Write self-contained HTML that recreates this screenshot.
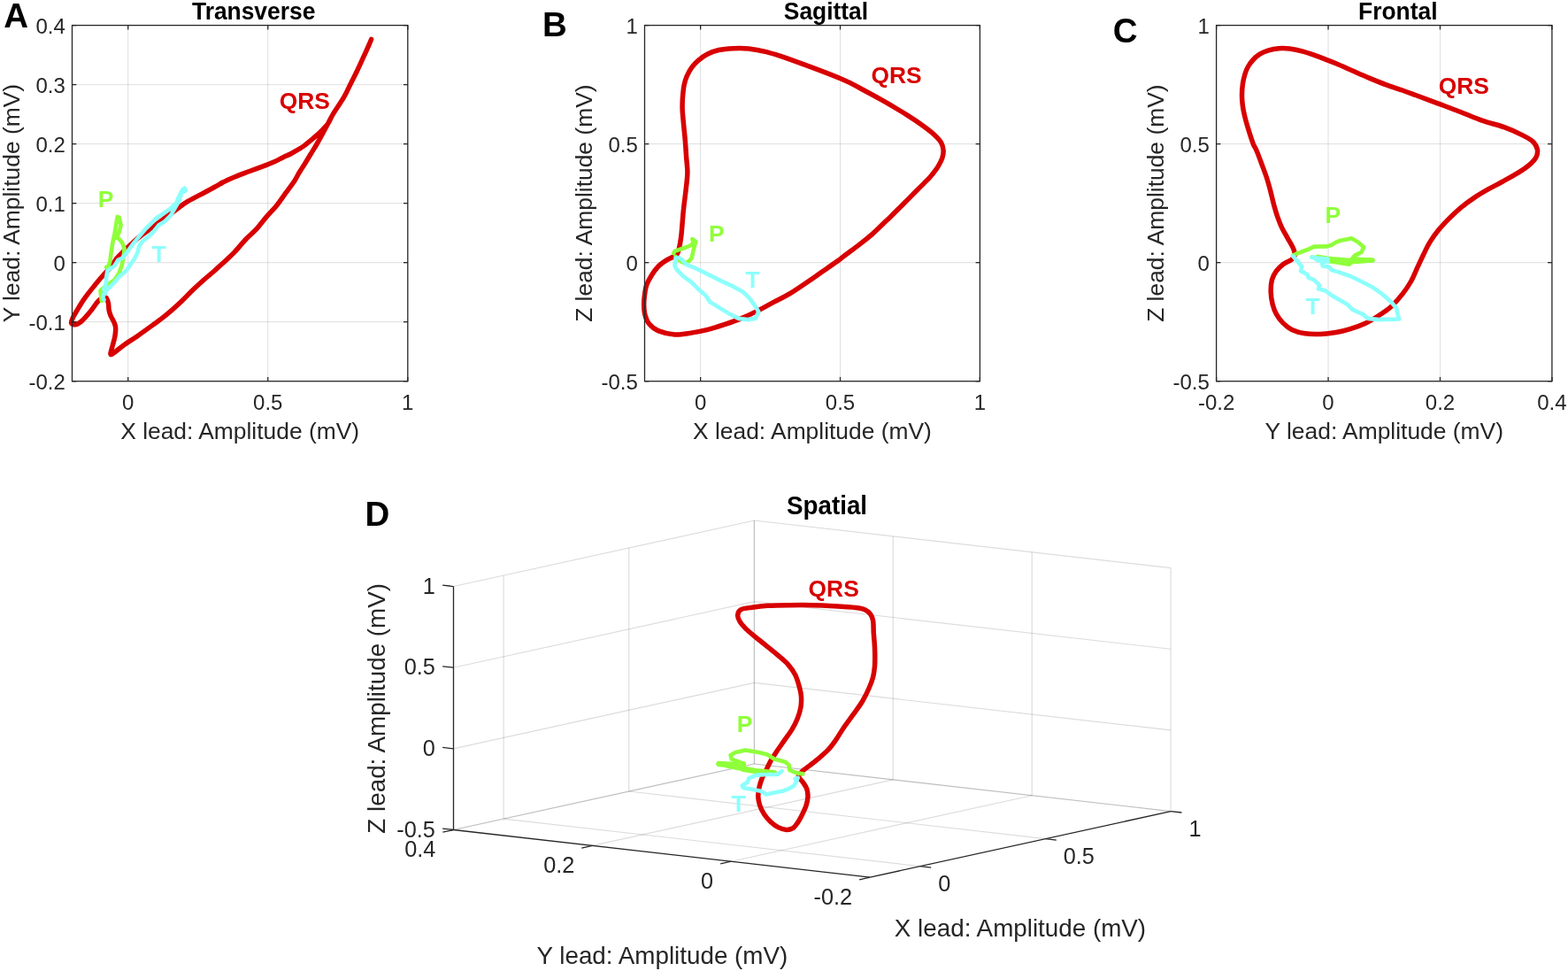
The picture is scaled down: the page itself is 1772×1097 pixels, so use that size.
<!DOCTYPE html>
<html><head><meta charset="utf-8"><style>
html,body{margin:0;padding:0;background:#fff;}
svg{display:block;font-family:'Liberation Sans', Arial, sans-serif;}
</style></head><body>
<svg width="1772" height="1097" viewBox="0 0 1772 1097">
<rect width="1772" height="1097" fill="#fff"/>
<line x1="144.72" y1="28.6" x2="144.72" y2="430.7" stroke="#262626" stroke-width="1" stroke-opacity="0.15"/>
<line x1="302.76" y1="28.6" x2="302.76" y2="430.7" stroke="#262626" stroke-width="1" stroke-opacity="0.15"/>
<line x1="81.5" y1="363.68" x2="460.8" y2="363.68" stroke="#262626" stroke-width="1" stroke-opacity="0.15"/>
<line x1="81.5" y1="296.67" x2="460.8" y2="296.67" stroke="#262626" stroke-width="1" stroke-opacity="0.15"/>
<line x1="81.5" y1="229.65" x2="460.8" y2="229.65" stroke="#262626" stroke-width="1" stroke-opacity="0.15"/>
<line x1="81.5" y1="162.63" x2="460.8" y2="162.63" stroke="#262626" stroke-width="1" stroke-opacity="0.15"/>
<line x1="81.5" y1="95.62" x2="460.8" y2="95.62" stroke="#262626" stroke-width="1" stroke-opacity="0.15"/>
<line x1="791.65" y1="28.6" x2="791.65" y2="430.7" stroke="#262626" stroke-width="1" stroke-opacity="0.15"/>
<line x1="949.53" y1="28.6" x2="949.53" y2="430.7" stroke="#262626" stroke-width="1" stroke-opacity="0.15"/>
<line x1="728.5" y1="296.67" x2="1107.4" y2="296.67" stroke="#262626" stroke-width="1" stroke-opacity="0.15"/>
<line x1="728.5" y1="162.63" x2="1107.4" y2="162.63" stroke="#262626" stroke-width="1" stroke-opacity="0.15"/>
<line x1="1501.03" y1="28.6" x2="1501.03" y2="430.7" stroke="#262626" stroke-width="1" stroke-opacity="0.15"/>
<line x1="1627.47" y1="28.6" x2="1627.47" y2="430.7" stroke="#262626" stroke-width="1" stroke-opacity="0.15"/>
<line x1="1374.6" y1="296.67" x2="1753.9" y2="296.67" stroke="#262626" stroke-width="1" stroke-opacity="0.15"/>
<line x1="1374.6" y1="162.63" x2="1753.9" y2="162.63" stroke="#262626" stroke-width="1" stroke-opacity="0.15"/>
<path d="M118,336 C118.33,336.03 119.27,335.13 120,336.2 C120.73,337.27 121.88,340.12 122.4,342.4 C122.92,344.68 122.68,347.6 123.1,349.9 C123.52,352.2 123.97,353.9 124.9,356.2 C125.83,358.5 127.75,361.42 128.7,363.7 C129.65,365.98 130.4,367.2 130.6,369.9 C130.8,372.6 130.43,376.57 129.9,379.9 C129.37,383.23 128.23,386.57 127.4,389.9 C126.57,393.23 124.68,398.45 124.9,399.9 C125.12,401.35 126.2,400.27 128.7,398.6 C131.2,396.93 135.53,393.02 139.9,389.9 C144.27,386.78 149.48,383.65 154.9,379.9 C160.32,376.15 166.98,371.35 172.4,367.4 C177.82,363.45 182.13,360.52 187.4,356.2 C192.67,351.88 198.9,346.28 204,341.5 C209.1,336.72 213.67,331.67 218,327.5 C222.33,323.33 226.18,319.88 230,316.5 C233.82,313.12 237.25,310.4 240.9,307.2 C244.55,304 247.88,301.03 251.9,297.3 C255.92,293.57 260.63,289.35 265,284.8 C269.37,280.25 273.94,274.36 278.1,270 C282.26,265.64 286.11,262.82 289.96,258.64 C293.8,254.46 297.45,249.27 301.19,244.9 C304.94,240.53 308.89,236.79 312.43,232.42 C315.97,228.05 319.09,223.26 322.42,218.68 C325.75,214.11 329.79,208.9 332.41,204.95 C335.02,201 336.08,198.32 338.1,195 C340.12,191.68 342.27,188.58 344.5,185 C346.73,181.42 349.17,177.33 351.5,173.5 C353.83,169.67 356.27,165.83 358.5,162 C360.73,158.17 362.88,154.22 364.9,150.5 C366.92,146.78 368.68,143.32 370.6,139.7 C372.52,136.08 373.4,133.77 376.4,128.8 C379.4,123.83 385.32,115.55 388.6,109.9 C391.88,104.25 393.6,99.88 396.1,94.9 C398.6,89.92 401.1,85.2 403.6,80 C406.1,74.8 408.82,68.7 411.1,63.7 C413.38,58.7 415.88,53.22 417.3,50 C418.72,46.78 419.6,44.4 419.6,44.4 C419.6,44.4 418.72,46.78 417.3,50 C415.88,53.22 413.38,58.7 411.1,63.7 C408.82,68.7 406.1,74.8 403.6,80 C401.1,85.2 398.6,89.92 396.1,94.9 C393.6,99.88 391.88,104.25 388.6,109.9 C385.32,115.55 379.4,123.83 376.4,128.8 C373.4,133.77 372.52,136.82 370.6,139.7 C368.68,142.58 366.92,143.98 364.9,146.1 C362.88,148.22 360.85,150.28 358.5,152.4 C356.15,154.52 353.25,156.77 350.8,158.8 C348.35,160.83 346.13,162.9 343.8,164.6 C341.47,166.3 339.25,167.52 336.8,169 C334.35,170.48 331.97,172 329.1,173.5 C326.23,175 322.78,176.45 319.6,178 C316.42,179.55 313.28,181.33 310,182.8 C306.72,184.27 304.74,185.03 299.94,186.84 C295.15,188.66 287.04,191.53 281.21,193.71 C275.39,195.9 270.19,197.77 264.98,199.96 C259.78,202.14 252.53,205.57 250,206.82 C247.47,208.07 252.96,205.69 249.8,207.46 C246.65,209.23 237.32,214.12 231.07,217.45 C224.83,220.78 217.55,224.31 212.35,227.44 C207.14,230.56 204.44,232.85 199.86,236.18 C195.28,239.51 189.87,243.67 184.88,247.41 C179.88,251.16 174.89,254.9 169.89,258.65 C164.9,262.4 160.94,264.66 154.91,269.89 C148.88,275.11 137.87,285.81 133.7,290 C129.53,294.19 131.37,293.02 129.9,295 C128.43,296.98 126.77,299.62 124.9,301.9 C123.03,304.18 120.57,306.63 118.7,308.7 C116.83,310.77 115.57,312.12 113.7,314.3 C111.83,316.48 109.78,318.98 107.5,321.8 C105.22,324.62 102.3,328.18 100,331.2 C97.7,334.22 95.78,336.78 93.7,339.9 C91.62,343.02 89.37,346.77 87.5,349.9 C85.63,353.03 83.65,356.2 82.5,358.7 C81.35,361.2 80.18,363.55 80.6,364.9 C81.02,366.25 83.23,367 85,366.8 C86.77,366.6 89.12,365.27 91.2,363.7 C93.28,362.13 95.42,359.7 97.5,357.4 C99.58,355.1 101.62,352.6 103.7,349.9 C105.78,347.2 108.12,343.38 110,341.2 C111.88,339.02 113.67,337.67 115,336.8 C116.33,335.93 117.5,336.13 118,336" fill="none" stroke="#D80000" stroke-width="5.5" stroke-linejoin="round" stroke-linecap="round"/>
<polyline points="114.82,340.08 113.5,328.19 121.43,321.58 129.36,316.29 134.65,308.37 137.95,299.11 139.93,287.22 140.59,280.61 137.95,274.01 134.65,270.04 132,268.72 134.65,262.11 136.63,254.18 134.65,245.59 132.66,244.93 131.34,252.86 129.62,263.43 127.38,274.01 125.66,284.58 124.34,295.15 122.75,300.44 120.11,301.76" fill="none" stroke="#8FFF3A" stroke-width="4.6" stroke-linejoin="round" stroke-linecap="round"/>
<polyline points="118.79,332.15 117.47,326.87 120.11,318.94 120.11,313.65 121.43,305.72 125.4,303.08 129.36,300.44 133.32,293.83 138.61,291.19 143.9,284.58 150.5,275.33 157.11,267.4 163.72,259.47 170.33,252.86 176.93,246.25 184.86,240.97 192.79,235.68 199.4,229.07 202.04,222.47 206.01,214.54 208.65,212.55 209.97,215.2 204.69,218.5 202.7,226.43 198.08,234.36 192.79,243.61 186.19,250.22 179.58,254.18 174.29,260.79 167.68,267.4 161.08,272.68 157.11,277.97 155.79,284.58 151.83,292.51 147.86,297.79 143.9,304.4 139.93,308.37 134.65,312.33 130.68,317.62 126.72,321.58 122.75,325.55 118.79,329.51 116.14,334.8 117.47,338.76" fill="none" stroke="#8CFFFC" stroke-width="4.6" stroke-linejoin="round" stroke-linecap="round"/>
<text x="344.25" y="123" font-size="26.4" font-weight="bold" text-anchor="middle" fill="#D80000">QRS</text>
<text x="119.58" y="234" font-size="26.4" font-weight="bold" text-anchor="middle" fill="#8FFF3A">P</text>
<text x="179.68" y="295.6" font-size="26.4" font-weight="bold" text-anchor="middle" fill="#8CFFFC">T</text>
<path d="M766.2,285 C766.52,283.75 767.47,280.83 768.1,277.5 C768.73,274.17 769.28,271.7 770,265 C770.72,258.3 771.5,246.08 772.4,237.3 C773.3,228.52 774.65,219.38 775.4,212.3 C776.15,205.22 776.87,200.68 776.9,194.8 C776.93,188.92 776.03,183.03 775.6,177 C775.17,170.97 774.82,164.78 774.3,158.6 C773.78,152.42 773.02,145.52 772.5,139.9 C771.98,134.28 771.42,129.07 771.2,124.9 C770.98,120.73 771.1,118.02 771.2,114.9 C771.3,111.78 771.48,109.32 771.8,106.2 C772.12,103.08 772.37,99.53 773.1,96.2 C773.83,92.87 774.75,89.53 776.2,86.2 C777.65,82.87 779.62,79.22 781.8,76.2 C783.98,73.18 786.38,70.6 789.3,68.1 C792.22,65.6 795.45,63.13 799.3,61.2 C803.15,59.27 807.52,57.58 812.4,56.5 C817.28,55.42 822.98,54.95 828.6,54.7 C834.22,54.45 839.85,54.33 846.1,55 C852.35,55.67 859.02,56.93 866.1,58.7 C873.18,60.47 874.63,60.6 888.6,65.6 C902.57,70.6 935.52,82.77 949.9,88.7 C964.28,94.63 966.57,96.83 974.9,101.2 C983.23,105.57 991.57,110.12 999.9,114.9 C1008.23,119.68 1017.62,125.32 1024.9,129.9 C1032.18,134.48 1038.4,138.65 1043.6,142.4 C1048.8,146.15 1052.77,149.28 1056.1,152.4 C1059.43,155.52 1061.93,158.18 1063.6,161.1 C1065.27,164.02 1065.9,166.98 1066.1,169.9 C1066.3,172.82 1065.85,175.48 1064.8,178.6 C1063.75,181.72 1061.67,185.53 1059.8,188.6 C1057.93,191.67 1055.38,194.73 1053.6,197 C1051.82,199.27 1051.68,199.52 1049.1,202.2 C1046.52,204.88 1041.75,209.45 1038.1,213.1 C1034.45,216.75 1030.83,220.45 1027.2,224.1 C1023.57,227.75 1019.95,231.37 1016.3,235 C1012.65,238.63 1010.42,240.97 1005.3,245.9 C1000.18,250.83 991.3,259.53 985.6,264.6 C979.9,269.67 975.95,272.53 971.1,276.3 C966.25,280.07 960.15,284.42 956.5,287.2 C952.85,289.98 952.85,290.33 949.2,293 C945.55,295.67 939.47,299.78 934.6,303.2 C929.73,306.62 926.83,308.83 920,313.5 C913.17,318.17 901.13,326.6 893.6,331.2 C886.07,335.8 881.05,337.78 874.8,341.1 C868.55,344.42 862.33,347.97 856.1,351.1 C849.87,354.23 843.65,357.3 837.4,359.9 C831.15,362.5 824.85,364.62 818.6,366.7 C812.35,368.78 806.13,370.83 799.9,372.4 C793.67,373.97 787.43,375.17 781.2,376.1 C774.97,377.03 768.75,378.42 762.5,378 C756.25,377.58 748.5,375.58 743.7,373.6 C738.9,371.62 736.15,369.02 733.7,366.1 C731.25,363.18 730,359.63 729,356.1 C728,352.57 727.82,348.43 727.7,344.9 C727.58,341.37 727.82,338.65 728.3,334.9 C728.78,331.15 729.28,326.35 730.6,322.4 C731.92,318.45 734.02,314.73 736.2,311.2 C738.38,307.67 740.78,304.12 743.7,301.2 C746.62,298.28 750.37,295.78 753.7,293.7 C757.03,291.62 761.62,290.15 763.7,288.7 C765.78,287.25 765.78,285.62 766.2,285" fill="none" stroke="#D80000" stroke-width="5.5" stroke-linejoin="round" stroke-linecap="round"/>
<polyline points="761.21,286.21 762.46,283.71 769.95,281.21 778.69,278.09 783.68,274.97 782.44,269.98 786.18,273.1 783.68,282.46 781.81,291.2 778.69,294.95 773.7,297.45 768.7,294.95 763.71,289.96" fill="none" stroke="#8FFF3A" stroke-width="4.6" stroke-linejoin="round" stroke-linecap="round"/>
<polyline points="763.71,291.2 762.46,299.94 764.96,304.94 772.45,312.43 781.19,318.67 788.68,326.16 797.42,333.66 802.41,341.15 812.4,347.39 824.89,354.88 834.88,359.88 844.87,361.12 853.61,359.88 857.35,352.38 853.61,346.14 847.36,337.4 839.87,329.91 828.63,323.67 814.9,317.42 799.92,309.93 787.43,303.69 774.94,298.7 771.2,293.7 767.45,291.2" fill="none" stroke="#8CFFFC" stroke-width="4.6" stroke-linejoin="round" stroke-linecap="round"/>
<text x="1013" y="93.7" font-size="26.4" font-weight="bold" text-anchor="middle" fill="#D80000">QRS</text>
<text x="809.9" y="272.5" font-size="26.4" font-weight="bold" text-anchor="middle" fill="#8FFF3A">P</text>
<text x="850.5" y="324.5" font-size="26.4" font-weight="bold" text-anchor="middle" fill="#8CFFFC">T</text>
<path d="M1463.7,287.5 C1463.28,286.23 1462.67,283.05 1461.2,279.9 C1459.73,276.75 1456.98,272.35 1454.9,268.6 C1452.82,264.85 1450.57,261.35 1448.7,257.4 C1446.83,253.45 1445.17,249.07 1443.7,244.9 C1442.23,240.73 1440.95,236.15 1439.9,232.4 C1438.85,228.65 1438.23,225.72 1437.4,222.4 C1436.57,219.08 1435.93,216.23 1434.9,212.5 C1433.87,208.77 1432.65,204.38 1431.2,200 C1429.75,195.62 1428.07,191.2 1426.2,186.2 C1424.33,181.2 1421.67,173.97 1420,170 C1418.33,166.03 1417.67,166.17 1416.2,162.4 C1414.73,158.63 1412.75,152.4 1411.2,147.4 C1409.65,142.4 1408.03,136.98 1406.9,132.4 C1405.77,127.82 1404.97,124.07 1404.4,119.9 C1403.83,115.73 1403.5,111.57 1403.5,107.4 C1403.5,103.23 1403.83,98.85 1404.4,94.9 C1404.97,90.95 1405.87,87.02 1406.9,83.7 C1407.93,80.38 1409.05,77.7 1410.6,75 C1412.15,72.3 1414.02,69.8 1416.2,67.5 C1418.38,65.2 1420.78,62.97 1423.7,61.2 C1426.62,59.43 1430.17,57.98 1433.7,56.9 C1437.23,55.82 1440.95,55.02 1444.9,54.7 C1448.85,54.38 1452.82,54.43 1457.4,55 C1461.98,55.57 1466.78,56.55 1472.4,58.1 C1478.02,59.65 1484.85,62.02 1491.1,64.3 C1497.35,66.58 1503.65,69.18 1509.9,71.8 C1516.15,74.42 1522.37,77.28 1528.6,80 C1534.83,82.72 1541.07,85.5 1547.3,88.1 C1553.53,90.7 1559.75,93.28 1566,95.6 C1572.25,97.92 1579.15,100.02 1584.8,102 C1590.45,103.98 1593.22,105.03 1599.9,107.5 C1606.58,109.97 1616.57,113.68 1624.9,116.8 C1633.23,119.92 1641.57,122.97 1649.9,126.2 C1658.23,129.43 1666.58,133.28 1674.9,136.2 C1683.22,139.12 1692.32,141 1699.8,143.7 C1707.28,146.4 1714.38,149.7 1719.8,152.4 C1725.22,155.1 1729.38,157.2 1732.3,159.9 C1735.22,162.6 1736.68,165.68 1737.3,168.6 C1737.92,171.52 1737.47,174.48 1736,177.4 C1734.53,180.32 1731.82,183.18 1728.5,186.1 C1725.18,189.02 1721.28,191.67 1716.1,194.9 C1710.92,198.13 1703.07,202.37 1697.4,205.5 C1691.73,208.63 1687.2,210.8 1682.1,213.7 C1677,216.6 1671.9,219.5 1666.8,222.9 C1661.7,226.3 1656.43,230.02 1651.5,234.1 C1646.57,238.18 1641.47,243.15 1637.2,247.4 C1632.93,251.65 1629.48,255.18 1625.9,259.6 C1622.32,264.02 1618.6,269.17 1615.7,273.9 C1612.8,278.63 1610.73,283.45 1608.5,288 C1606.27,292.55 1604.58,296.28 1602.3,301.2 C1600.02,306.12 1597.72,312.3 1594.8,317.5 C1591.88,322.7 1588.55,327.62 1584.8,332.4 C1581.05,337.18 1576.67,342.23 1572.3,346.2 C1567.93,350.17 1563.38,353.08 1558.6,356.2 C1553.82,359.32 1548.82,362.42 1543.6,364.9 C1538.38,367.38 1532.92,369.33 1527.3,371.1 C1521.68,372.87 1515.72,374.45 1509.9,375.5 C1504.08,376.55 1498.23,377.18 1492.4,377.4 C1486.57,377.62 1480.32,377.63 1474.9,376.8 C1469.48,375.97 1464.07,374.38 1459.9,372.4 C1455.73,370.42 1452.82,367.82 1449.9,364.9 C1446.98,361.98 1444.37,358.43 1442.4,354.9 C1440.43,351.37 1439.13,347.87 1438.1,343.7 C1437.07,339.53 1436.32,334.48 1436.2,329.9 C1436.08,325.32 1436.37,320.15 1437.4,316.2 C1438.43,312.25 1440.32,309.12 1442.4,306.2 C1444.48,303.28 1446.98,300.88 1449.9,298.7 C1452.82,296.52 1457.6,294.97 1459.9,293.1 C1462.2,291.23 1463.07,288.43 1463.7,287.5" fill="none" stroke="#D80000" stroke-width="5.5" stroke-linejoin="round" stroke-linecap="round"/>
<polyline points="1461.17,288.62 1464.92,286.74 1474.9,283 1479.9,281.12 1484.89,278.63 1499.88,278.38 1504.87,276.75 1509.87,273.63 1514.86,271.76 1527.35,269.26 1534.84,273.63 1541.08,279.25 1538.58,284.87 1531.09,288.62 1528.59,291.74 1537.33,292.99 1551.07,294.24 1537.33,295.48 1527.35,296.11 1524.85,298.61 1502.37,294.86 1489.89,291.74 1482.4,290.49" fill="none" stroke="#8FFF3A" stroke-width="4.6" stroke-linejoin="round" stroke-linecap="round"/>
<polyline points="1489.89,291.36 1502.37,293.61 1514.86,294.61 1525.47,295.48" fill="none" stroke="#8FFF3A" stroke-width="7.5" stroke-linejoin="round" stroke-linecap="round"/>
<polyline points="1525.47,294.24 1539.83,293.61 1551.07,293.99" fill="none" stroke="#8FFF3A" stroke-width="5.5" stroke-linejoin="round" stroke-linecap="round"/>
<polyline points="1461.17,289.36 1466.16,294.98 1471.16,301.23 1469.91,306.22 1477.4,309.97 1478.65,313.71 1484.89,316.21 1491.14,322.45 1489.89,326.2 1498.63,328.7 1504.87,333.69 1512.36,338.06 1522.35,343.68 1528.59,349.92 1539.83,354.92 1546.07,359.91 1558.56,361.16 1581.04,360.53 1579.79,356.16 1578.54,351.17 1578.54,348.67 1572.29,341.18 1562.31,332.44 1549.82,323.7 1539.83,318.71 1527.35,312.46 1514.86,308.09 1504.87,304.97 1502.37,301.85 1494.88,300.6 1493.63,295.61 1488.64,293.73 1484.89,291.24 1482.4,290.61 1489.89,291.49 1500.5,292.49 1500.5,295.61 1493.63,294.73" fill="none" stroke="#8CFFFC" stroke-width="4.6" stroke-linejoin="round" stroke-linecap="round"/>
<text x="1654.25" y="106.2" font-size="26.4" font-weight="bold" text-anchor="middle" fill="#D80000">QRS</text>
<text x="1506.25" y="252.3" font-size="26.4" font-weight="bold" text-anchor="middle" fill="#8FFF3A">P</text>
<text x="1483.65" y="354.9" font-size="26.4" font-weight="bold" text-anchor="middle" fill="#8CFFFC">T</text>
<line x1="144.72" y1="430.7" x2="144.72" y2="425.9" stroke="#262626" stroke-width="1.3"/>
<line x1="144.72" y1="28.6" x2="144.72" y2="33.4" stroke="#262626" stroke-width="1.3"/>
<line x1="302.76" y1="430.7" x2="302.76" y2="425.9" stroke="#262626" stroke-width="1.3"/>
<line x1="302.76" y1="28.6" x2="302.76" y2="33.4" stroke="#262626" stroke-width="1.3"/>
<line x1="460.8" y1="430.7" x2="460.8" y2="425.9" stroke="#262626" stroke-width="1.3"/>
<line x1="460.8" y1="28.6" x2="460.8" y2="33.4" stroke="#262626" stroke-width="1.3"/>
<line x1="81.5" y1="430.7" x2="86.3" y2="430.7" stroke="#262626" stroke-width="1.3"/>
<line x1="460.8" y1="430.7" x2="456" y2="430.7" stroke="#262626" stroke-width="1.3"/>
<line x1="81.5" y1="363.68" x2="86.3" y2="363.68" stroke="#262626" stroke-width="1.3"/>
<line x1="460.8" y1="363.68" x2="456" y2="363.68" stroke="#262626" stroke-width="1.3"/>
<line x1="81.5" y1="296.67" x2="86.3" y2="296.67" stroke="#262626" stroke-width="1.3"/>
<line x1="460.8" y1="296.67" x2="456" y2="296.67" stroke="#262626" stroke-width="1.3"/>
<line x1="81.5" y1="229.65" x2="86.3" y2="229.65" stroke="#262626" stroke-width="1.3"/>
<line x1="460.8" y1="229.65" x2="456" y2="229.65" stroke="#262626" stroke-width="1.3"/>
<line x1="81.5" y1="162.63" x2="86.3" y2="162.63" stroke="#262626" stroke-width="1.3"/>
<line x1="460.8" y1="162.63" x2="456" y2="162.63" stroke="#262626" stroke-width="1.3"/>
<line x1="81.5" y1="95.62" x2="86.3" y2="95.62" stroke="#262626" stroke-width="1.3"/>
<line x1="460.8" y1="95.62" x2="456" y2="95.62" stroke="#262626" stroke-width="1.3"/>
<line x1="81.5" y1="28.6" x2="86.3" y2="28.6" stroke="#262626" stroke-width="1.3"/>
<line x1="460.8" y1="28.6" x2="456" y2="28.6" stroke="#262626" stroke-width="1.3"/>
<rect x="81.5" y="28.6" width="379.3" height="402.1" fill="none" stroke="#262626" stroke-width="1.3"/>
<text x="144.72" y="462.8" font-size="24" text-anchor="middle" fill="#262626">0</text>
<text x="302.76" y="462.8" font-size="24" text-anchor="middle" fill="#262626">0.5</text>
<text x="460.8" y="462.8" font-size="24" text-anchor="middle" fill="#262626">1</text>
<text x="73.8" y="440.3" font-size="24" text-anchor="end" fill="#262626">-0.2</text>
<text x="73.8" y="373.28" font-size="24" text-anchor="end" fill="#262626">-0.1</text>
<text x="73.8" y="306.27" font-size="24" text-anchor="end" fill="#262626">0</text>
<text x="73.8" y="239.25" font-size="24" text-anchor="end" fill="#262626">0.1</text>
<text x="73.8" y="172.23" font-size="24" text-anchor="end" fill="#262626">0.2</text>
<text x="73.8" y="105.22" font-size="24" text-anchor="end" fill="#262626">0.3</text>
<text x="73.8" y="38.2" font-size="24" text-anchor="end" fill="#262626">0.4</text>
<text x="0" y="0" font-size="26.4" font-weight="bold" text-anchor="middle" fill="#000" transform="translate(286.65 21.7) scale(1 1.06)">Transverse</text>
<text x="271.15" y="496.1" font-size="26.4" text-anchor="middle" fill="#262626">X lead: Amplitude (mV)</text>
<text x="21.7" y="229.65" font-size="26.4" text-anchor="middle" fill="#262626" transform="rotate(-90 21.7 229.65)">Y lead: Amplitude (mV)</text>
<text x="4.3" y="30.5" font-size="38.5" font-weight="bold" text-anchor="start" fill="#000">A</text>
<line x1="791.65" y1="430.7" x2="791.65" y2="425.9" stroke="#262626" stroke-width="1.3"/>
<line x1="791.65" y1="28.6" x2="791.65" y2="33.4" stroke="#262626" stroke-width="1.3"/>
<line x1="949.53" y1="430.7" x2="949.53" y2="425.9" stroke="#262626" stroke-width="1.3"/>
<line x1="949.53" y1="28.6" x2="949.53" y2="33.4" stroke="#262626" stroke-width="1.3"/>
<line x1="1107.4" y1="430.7" x2="1107.4" y2="425.9" stroke="#262626" stroke-width="1.3"/>
<line x1="1107.4" y1="28.6" x2="1107.4" y2="33.4" stroke="#262626" stroke-width="1.3"/>
<line x1="728.5" y1="430.7" x2="733.3" y2="430.7" stroke="#262626" stroke-width="1.3"/>
<line x1="1107.4" y1="430.7" x2="1102.6" y2="430.7" stroke="#262626" stroke-width="1.3"/>
<line x1="728.5" y1="296.67" x2="733.3" y2="296.67" stroke="#262626" stroke-width="1.3"/>
<line x1="1107.4" y1="296.67" x2="1102.6" y2="296.67" stroke="#262626" stroke-width="1.3"/>
<line x1="728.5" y1="162.63" x2="733.3" y2="162.63" stroke="#262626" stroke-width="1.3"/>
<line x1="1107.4" y1="162.63" x2="1102.6" y2="162.63" stroke="#262626" stroke-width="1.3"/>
<line x1="728.5" y1="28.6" x2="733.3" y2="28.6" stroke="#262626" stroke-width="1.3"/>
<line x1="1107.4" y1="28.6" x2="1102.6" y2="28.6" stroke="#262626" stroke-width="1.3"/>
<rect x="728.5" y="28.6" width="378.9" height="402.1" fill="none" stroke="#262626" stroke-width="1.3"/>
<text x="791.65" y="462.8" font-size="24" text-anchor="middle" fill="#262626">0</text>
<text x="949.53" y="462.8" font-size="24" text-anchor="middle" fill="#262626">0.5</text>
<text x="1107.4" y="462.8" font-size="24" text-anchor="middle" fill="#262626">1</text>
<text x="720.8" y="440.3" font-size="24" text-anchor="end" fill="#262626">-0.5</text>
<text x="720.8" y="306.27" font-size="24" text-anchor="end" fill="#262626">0</text>
<text x="720.8" y="172.23" font-size="24" text-anchor="end" fill="#262626">0.5</text>
<text x="720.8" y="38.2" font-size="24" text-anchor="end" fill="#262626">1</text>
<text x="0" y="0" font-size="26.4" font-weight="bold" text-anchor="middle" fill="#000" transform="translate(933.45 21.7) scale(1 1.06)">Sagittal</text>
<text x="917.95" y="496.1" font-size="26.4" text-anchor="middle" fill="#262626">X lead: Amplitude (mV)</text>
<text x="668.7" y="229.65" font-size="26.4" text-anchor="middle" fill="#262626" transform="rotate(-90 668.7 229.65)">Z lead: Amplitude (mV)</text>
<text x="613" y="40.5" font-size="38.5" font-weight="bold" text-anchor="start" fill="#000">B</text>
<line x1="1374.6" y1="430.7" x2="1374.6" y2="425.9" stroke="#262626" stroke-width="1.3"/>
<line x1="1374.6" y1="28.6" x2="1374.6" y2="33.4" stroke="#262626" stroke-width="1.3"/>
<line x1="1501.03" y1="430.7" x2="1501.03" y2="425.9" stroke="#262626" stroke-width="1.3"/>
<line x1="1501.03" y1="28.6" x2="1501.03" y2="33.4" stroke="#262626" stroke-width="1.3"/>
<line x1="1627.47" y1="430.7" x2="1627.47" y2="425.9" stroke="#262626" stroke-width="1.3"/>
<line x1="1627.47" y1="28.6" x2="1627.47" y2="33.4" stroke="#262626" stroke-width="1.3"/>
<line x1="1753.9" y1="430.7" x2="1753.9" y2="425.9" stroke="#262626" stroke-width="1.3"/>
<line x1="1753.9" y1="28.6" x2="1753.9" y2="33.4" stroke="#262626" stroke-width="1.3"/>
<line x1="1374.6" y1="430.7" x2="1379.4" y2="430.7" stroke="#262626" stroke-width="1.3"/>
<line x1="1753.9" y1="430.7" x2="1749.1" y2="430.7" stroke="#262626" stroke-width="1.3"/>
<line x1="1374.6" y1="296.67" x2="1379.4" y2="296.67" stroke="#262626" stroke-width="1.3"/>
<line x1="1753.9" y1="296.67" x2="1749.1" y2="296.67" stroke="#262626" stroke-width="1.3"/>
<line x1="1374.6" y1="162.63" x2="1379.4" y2="162.63" stroke="#262626" stroke-width="1.3"/>
<line x1="1753.9" y1="162.63" x2="1749.1" y2="162.63" stroke="#262626" stroke-width="1.3"/>
<line x1="1374.6" y1="28.6" x2="1379.4" y2="28.6" stroke="#262626" stroke-width="1.3"/>
<line x1="1753.9" y1="28.6" x2="1749.1" y2="28.6" stroke="#262626" stroke-width="1.3"/>
<rect x="1374.6" y="28.6" width="379.3" height="402.1" fill="none" stroke="#262626" stroke-width="1.3"/>
<text x="1374.6" y="462.8" font-size="24" text-anchor="middle" fill="#262626">-0.2</text>
<text x="1501.03" y="462.8" font-size="24" text-anchor="middle" fill="#262626">0</text>
<text x="1627.47" y="462.8" font-size="24" text-anchor="middle" fill="#262626">0.2</text>
<text x="1753.9" y="462.8" font-size="24" text-anchor="middle" fill="#262626">0.4</text>
<text x="1366.9" y="440.3" font-size="24" text-anchor="end" fill="#262626">-0.5</text>
<text x="1366.9" y="306.27" font-size="24" text-anchor="end" fill="#262626">0</text>
<text x="1366.9" y="172.23" font-size="24" text-anchor="end" fill="#262626">0.5</text>
<text x="1366.9" y="38.2" font-size="24" text-anchor="end" fill="#262626">1</text>
<text x="0" y="0" font-size="26.4" font-weight="bold" text-anchor="middle" fill="#000" transform="translate(1579.75 21.7) scale(1 1.06)">Frontal</text>
<text x="1564.25" y="496.1" font-size="26.4" text-anchor="middle" fill="#262626">Y lead: Amplitude (mV)</text>
<text x="1314.8" y="229.65" font-size="26.4" text-anchor="middle" fill="#262626" transform="rotate(-90 1314.8 229.65)">Z lead: Amplitude (mV)</text>
<text x="1257.8" y="48" font-size="38.5" font-weight="bold" text-anchor="start" fill="#000">C</text>
<line x1="569.15" y1="925.08" x2="569.15" y2="650.13" stroke="#262626" stroke-width="1.15" stroke-opacity="0.16"/>
<line x1="710.78" y1="894.03" x2="710.78" y2="619.08" stroke="#262626" stroke-width="1.15" stroke-opacity="0.16"/>
<line x1="852.4" y1="862.98" x2="852.4" y2="588.03" stroke="#262626" stroke-width="1.15" stroke-opacity="0.16"/>
<line x1="512.5" y1="937.5" x2="852.4" y2="862.98" stroke="#262626" stroke-width="1.15" stroke-opacity="0.16"/>
<line x1="512.5" y1="845.85" x2="852.4" y2="771.33" stroke="#262626" stroke-width="1.15" stroke-opacity="0.16"/>
<line x1="512.5" y1="754.2" x2="852.4" y2="679.68" stroke="#262626" stroke-width="1.15" stroke-opacity="0.16"/>
<line x1="512.5" y1="662.55" x2="852.4" y2="588.03" stroke="#262626" stroke-width="1.15" stroke-opacity="0.16"/>
<line x1="1323.1" y1="916.59" x2="1323.1" y2="641.64" stroke="#262626" stroke-width="1.15" stroke-opacity="0.16"/>
<line x1="1166.2" y1="898.72" x2="1166.2" y2="623.77" stroke="#262626" stroke-width="1.15" stroke-opacity="0.16"/>
<line x1="1009.3" y1="880.85" x2="1009.3" y2="605.9" stroke="#262626" stroke-width="1.15" stroke-opacity="0.16"/>
<line x1="852.4" y1="862.98" x2="852.4" y2="588.03" stroke="#262626" stroke-width="1.15" stroke-opacity="0.16"/>
<line x1="1323.1" y1="916.59" x2="852.4" y2="862.98" stroke="#262626" stroke-width="1.15" stroke-opacity="0.16"/>
<line x1="1323.1" y1="824.94" x2="852.4" y2="771.33" stroke="#262626" stroke-width="1.15" stroke-opacity="0.16"/>
<line x1="1323.1" y1="733.29" x2="852.4" y2="679.68" stroke="#262626" stroke-width="1.15" stroke-opacity="0.16"/>
<line x1="1323.1" y1="641.64" x2="852.4" y2="588.03" stroke="#262626" stroke-width="1.15" stroke-opacity="0.16"/>
<line x1="1039.85" y1="978.69" x2="569.15" y2="925.08" stroke="#262626" stroke-width="1.15" stroke-opacity="0.16"/>
<line x1="1181.48" y1="947.64" x2="710.78" y2="894.03" stroke="#262626" stroke-width="1.15" stroke-opacity="0.16"/>
<line x1="1323.1" y1="916.59" x2="852.4" y2="862.98" stroke="#262626" stroke-width="1.15" stroke-opacity="0.16"/>
<line x1="826.3" y1="973.24" x2="1166.2" y2="898.72" stroke="#262626" stroke-width="1.15" stroke-opacity="0.16"/>
<line x1="669.4" y1="955.37" x2="1009.3" y2="880.85" stroke="#262626" stroke-width="1.15" stroke-opacity="0.16"/>
<line x1="512.5" y1="937.5" x2="852.4" y2="862.98" stroke="#262626" stroke-width="1.15" stroke-opacity="0.16"/>
<path d="M904.86,873.72 C905.28,873.21 906.11,871.78 907.36,870.64 C908.61,869.51 909.65,868.98 912.35,866.9 C915.06,864.82 919.63,861.49 923.59,858.16 C927.54,854.83 932.54,850.67 936.07,846.92 C939.61,843.18 941.9,839.85 944.81,835.68 C947.73,831.52 950.43,826.53 953.55,821.95 C956.68,817.37 960.01,813.21 963.54,808.21 C967.08,803.22 971.66,797.19 974.78,791.98 C977.9,786.78 980.3,781.52 982.27,777 C984.25,772.48 985.6,768.96 986.64,764.86 C987.68,760.76 988.16,756.54 988.52,752.37 C988.87,748.21 988.81,744.05 988.77,739.89 C988.72,735.73 988.52,731.56 988.27,727.4 C988.02,723.24 987.54,719.29 987.27,714.92 C987,710.55 987.27,704.72 986.64,701.18 C986.02,697.64 985.08,695.77 983.52,693.69 C981.96,691.61 979.98,689.9 977.28,688.7 C974.57,687.49 973.12,687.11 967.29,686.45 C961.46,685.78 950.64,685.16 942.32,684.7 C933.99,684.24 925.67,683.87 917.35,683.7 C909.02,683.53 900.7,683.6 892.37,683.7 C884.05,683.8 874.48,683.91 867.4,684.33 C860.33,684.74 854.92,685.47 849.92,686.2 C844.93,686.93 840.14,687.24 837.44,688.7 C834.73,690.15 833.9,692.65 833.69,694.94 C833.48,697.23 834.73,699.93 836.19,702.43 C837.64,704.93 839.72,707.22 842.43,709.92 C845.14,712.63 848.67,715.54 852.42,718.66 C856.16,721.78 860.53,725.11 864.9,728.65 C869.27,732.19 874.48,736.35 878.64,739.89 C882.8,743.43 886.55,746.13 889.88,749.88 C893.21,753.62 896.33,757.85 898.62,762.36 C900.91,766.88 902.47,772.87 903.61,776.97 C904.76,781.08 905.28,783.24 905.48,786.99 C905.69,790.74 905.59,795.31 904.86,799.47 C904.13,803.64 902.78,807.8 901.11,811.96 C899.45,816.12 897.37,820.28 894.87,824.45 C892.37,828.61 889.04,832.77 886.13,836.93 C883.22,841.09 879.89,845.67 877.39,849.42 C874.89,853.16 873.02,856.08 871.15,859.41 C869.27,862.74 867.82,866.07 866.15,869.4 C864.49,872.73 862.51,876.06 861.16,879.38 C859.81,882.71 858.77,885.95 858.04,889.37 C857.31,892.8 856.68,896.52 856.79,899.94 C856.89,903.37 857.52,906.6 858.66,909.93 C859.81,913.26 861.57,916.8 863.66,919.92 C865.74,923.04 868.44,926.16 871.15,928.66 C873.85,931.16 876.97,933.45 879.89,934.9 C882.8,936.36 885.92,937.3 888.63,937.4 C891.33,937.51 894.04,936.78 896.12,935.53 C898.2,934.28 899.45,932.3 901.11,929.91 C902.78,927.52 904.44,924.5 906.11,921.17 C907.77,917.84 909.96,913.47 911.1,909.93 C912.25,906.39 912.87,903.07 912.98,899.94 C913.08,896.82 912.66,893.91 911.73,891.2 C910.79,888.5 908.92,886 907.36,883.71 C905.8,881.42 902.78,879.13 902.36,877.47 C901.95,875.8 904.44,874.35 904.86,873.72" fill="none" stroke="#D80000" stroke-width="5.5" stroke-linejoin="round" stroke-linecap="round"/>
<polyline points="907.36,874.39 899.87,873.14 892.37,870.02 891.75,864.4 887.38,860.66 874.89,857.53 867.4,852.54 857.41,850.04 842.43,847.55 831.19,850.04 825.57,853.16 826.82,857.53 834.94,860.66 839.93,863.15 833.69,863.15 812.46,862.9 822.45,865.65 838.68,868.77 854.92,871.27 874.89,873.14" fill="none" stroke="#8FFF3A" stroke-width="4.6" stroke-linejoin="round" stroke-linecap="round"/>
<polyline points="812.46,862.9 829.94,864.4 839.93,863.15" fill="none" stroke="#8FFF3A" stroke-width="6.5" stroke-linejoin="round" stroke-linecap="round"/>
<polyline points="839.93,868.77 854.92,871.27 874.89,873.14" fill="none" stroke="#8FFF3A" stroke-width="6.5" stroke-linejoin="round" stroke-linecap="round"/>
<polyline points="883.63,871.23 878.64,874.97 867.4,874.97 854.92,875.6 846.18,879.34 844.93,883.71 838.68,887.46 839.93,889.96 849.92,891.83 859.91,893.7 866.15,897.45 874.89,895.57 884.88,893.7 892.37,890.58 897.37,887.46 899.87,883.09 901.74,878.72 898.62,879.97" fill="none" stroke="#8CFFFC" stroke-width="4.6" stroke-linejoin="round" stroke-linecap="round"/>
<text x="942.2" y="674" font-size="26.4" font-weight="bold" text-anchor="middle" fill="#D80000">QRS</text>
<text x="841.5" y="827" font-size="26.4" font-weight="bold" text-anchor="middle" fill="#8FFF3A">P</text>
<text x="834.5" y="917" font-size="26.4" font-weight="bold" text-anchor="middle" fill="#8CFFFC">T</text>
<line x1="512.5" y1="937.5" x2="512.5" y2="662.55" stroke="#262626" stroke-width="1.3"/>
<line x1="512.5" y1="937.5" x2="983.2" y2="991.11" stroke="#262626" stroke-width="1.3"/>
<line x1="983.2" y1="991.11" x2="1323.1" y2="916.59" stroke="#262626" stroke-width="1.3"/>
<line x1="512.5" y1="937.5" x2="500.18" y2="936.1" stroke="#262626" stroke-width="1.3"/>
<line x1="512.5" y1="845.85" x2="500.18" y2="844.45" stroke="#262626" stroke-width="1.3"/>
<line x1="512.5" y1="754.2" x2="500.18" y2="752.8" stroke="#262626" stroke-width="1.3"/>
<line x1="512.5" y1="662.55" x2="500.18" y2="661.15" stroke="#262626" stroke-width="1.3"/>
<line x1="983.2" y1="991.11" x2="971.09" y2="993.77" stroke="#262626" stroke-width="1.3"/>
<line x1="826.3" y1="973.24" x2="814.19" y2="975.9" stroke="#262626" stroke-width="1.3"/>
<line x1="669.4" y1="955.37" x2="657.29" y2="958.03" stroke="#262626" stroke-width="1.3"/>
<line x1="512.5" y1="937.5" x2="500.39" y2="940.16" stroke="#262626" stroke-width="1.3"/>
<line x1="1039.85" y1="978.69" x2="1052.17" y2="980.09" stroke="#262626" stroke-width="1.3"/>
<line x1="1181.48" y1="947.64" x2="1193.8" y2="949.04" stroke="#262626" stroke-width="1.3"/>
<line x1="1323.1" y1="916.59" x2="1335.42" y2="917.99" stroke="#262626" stroke-width="1.3"/>
<text x="491.9" y="945.5" font-size="25.3" text-anchor="end" fill="#262626">-0.5</text>
<text x="491.9" y="853.85" font-size="25.3" text-anchor="end" fill="#262626">0</text>
<text x="491.9" y="762.2" font-size="25.3" text-anchor="end" fill="#262626">0.5</text>
<text x="491.9" y="670.55" font-size="25.3" text-anchor="end" fill="#262626">1</text>
<text x="412.6" y="593.9" font-size="38.5" font-weight="bold" text-anchor="start" fill="#000">D</text>
<text x="0" y="0" font-size="27.8" font-weight="bold" text-anchor="middle" fill="#000" transform="translate(934.5 581.1) scale(1 1.06)">Spatial</text>
<text x="748.4" y="1088.5" font-size="27.8" text-anchor="middle" fill="#262626">Y lead: Amplitude (mV)</text>
<text x="435" y="800.3" font-size="27.8" text-anchor="middle" fill="#262626" transform="rotate(-90 435 800.3)">Z lead: Amplitude (mV)</text>
<text x="1153" y="1058" font-size="27.8" text-anchor="middle" fill="#262626">X lead: Amplitude (mV)</text>
<text x="963.1" y="1021.61" font-size="25.3" text-anchor="end" fill="#262626">-0.2</text>
<text x="806.2" y="1003.74" font-size="25.3" text-anchor="end" fill="#262626">0</text>
<text x="649.3" y="985.87" font-size="25.3" text-anchor="end" fill="#262626">0.2</text>
<text x="492.4" y="968" font-size="25.3" text-anchor="end" fill="#262626">0.4</text>
<text x="1060.15" y="1006.99" font-size="25.3" text-anchor="start" fill="#262626">0</text>
<text x="1201.78" y="975.94" font-size="25.3" text-anchor="start" fill="#262626">0.5</text>
<text x="1343.4" y="944.89" font-size="25.3" text-anchor="start" fill="#262626">1</text>
</svg></body></html>
